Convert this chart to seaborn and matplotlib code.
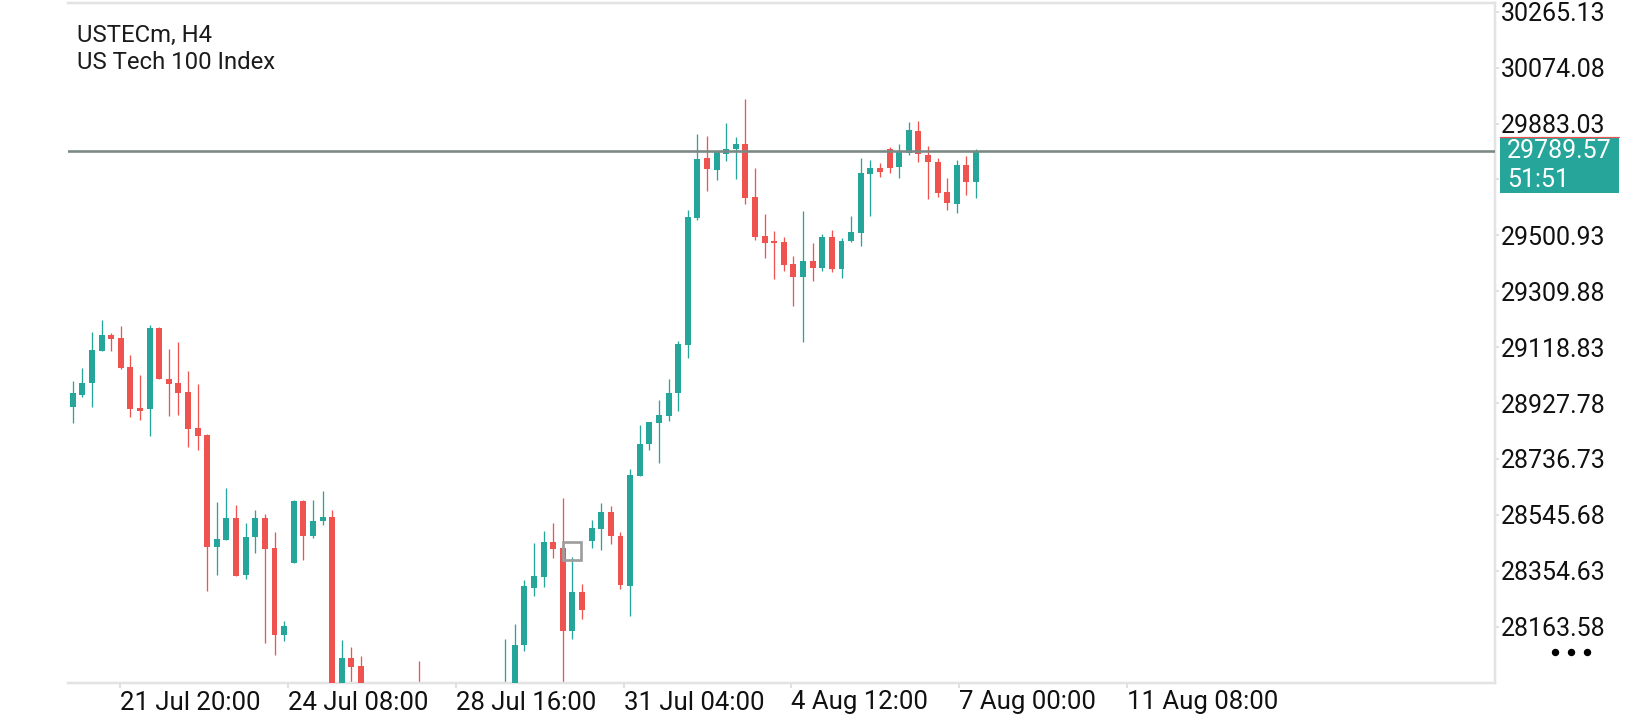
import matplotlib
matplotlib.use("Agg")
import numpy as np
import seaborn as sns
import matplotlib.pyplot as plt
from matplotlib.patches import Rectangle

# --- chart data (H4 candles) ---
SYMBOL = "USTECm, H4"
DESCRIPTION = "US Tech 100 Index"

OPEN = [28913, 28955, 28997, 29107, 29160, 29150, 29051, 28911, 28906, 29184,
        29010, 28996, 28966, 28843, 28819, 28437, 28461, 28535, 28340, 28471,
        28535, 28432, 28135, 28382, 28593, 28474, 28525, 28538, 27935, 28055,
        28029, 27945, 27880, 27910, 27875, 27900, 27955, 27900, 27850, 27890,
        27820, 27870, 27900, 27930, 27890, 27940, 27960, 28101, 28296, 28334,
        28453, 28431, 28149, 28281, 28457, 28498, 28555, 28473, 28304, 28678,
        28789, 28861, 28883, 28963, 29126, 29561, 29765, 29724, 29779, 29796,
        29813, 29632, 29500, 29480, 29478, 29404, 29359, 29413, 29388, 29496,
        29386, 29480, 29510, 29712, 29731, 29796, 29735, 29781, 29857, 29774,
        29751, 29648, 29609, 29741, 29684]
HIGH = [29003, 29046, 29169, 29211, 29168, 29191, 29092, 29024, 29194, 29189,
        29112, 29136, 29037, 28993, 28822, 28589, 28636, 28579, 28518, 28562,
        28548, 28488, 28183, 28595, 28596, 28596, 28627, 28562, 28118, 28093,
        28063, 27962, 27940, 27950, 27930, 27974, 28047, 27950, 27910, 27930,
        27900, 27940, 27945, 27960, 27950, 28121, 28173, 28323, 28448, 28490,
        28518, 28602, 28400, 28309, 28528, 28587, 28576, 28488, 28702, 28853,
        28864, 28938, 29010, 29141, 29587, 29847, 29840, 29787, 29885, 29836,
        29967, 29731, 29574, 29516, 29496, 29430, 29584, 29475, 29505, 29519,
        29491, 29567, 29765, 29758, 29748, 29804, 29813, 29888, 29892, 29806,
        29765, 29696, 29758, 29772, 29796]
LOW = [28860, 28949, 28915, 29105, 29107, 29045, 28881, 28870, 28816, 29010,
       28884, 28887, 28778, 28768, 28286, 28340, 28460, 28337, 28325, 28414,
       28108, 28066, 28115, 28380, 28391, 28465, 28512, 27900, 27910, 27950,
       27920, 27850, 27820, 27860, 27800, 27860, 27880, 27820, 27780, 27800,
       27760, 27830, 27850, 27870, 27860, 27900, 27940, 28081, 28269, 28300,
       28399, 27950, 28121, 28191, 28433, 28425, 28446, 28292, 28200, 28677,
       28767, 28724, 28866, 28900, 29083, 29553, 29653, 29690, 29756, 29694,
       29608, 29485, 29424, 29352, 29379, 29260, 29137, 29346, 29379, 29375,
       29356, 29479, 29465, 29568, 29701, 29713, 29698, 29774, 29753, 29626,
       29631, 29587, 29576, 29640, 29629]
CLOSE = [28961, 28995, 29109, 29160, 29148, 29047, 28908, 28902, 29184, 29011,
         28994, 28963, 28840, 28816, 28437, 28463, 28535, 28338, 28470, 28535,
         28430, 28136, 28166, 28593, 28474, 28525, 28538, 27930, 28055, 28027,
         27945, 27880, 27910, 27875, 27900, 27950, 27900, 27850, 27890, 27820,
         27870, 27900, 27930, 27890, 27940, 27960, 28101, 28302, 28337, 28453,
         28430, 28149, 28281, 28220, 28500, 28555, 28474, 28306, 28682, 28788,
         28863, 28887, 28963, 29129, 29565, 29763, 29729, 29787, 29796, 29813,
         29629, 29496, 29475, 29476, 29400, 29359, 29413, 29390, 29496, 29386,
         29481, 29511, 29714, 29731, 29718, 29732, 29790, 29861, 29778, 29750,
         29647, 29610, 29741, 29684, 29789.57]

LAST_PRICE = 29789.57
COUNTDOWN = "51:51"

TIME_LABELS = ["21 Jul 20:00", "24 Jul 08:00", "28 Jul 16:00", "31 Jul 04:00",
               "4 Aug 12:00", "7 Aug 00:00", "11 Aug 08:00"]
PRICE_TICKS = [28163.58, 28354.63, 28545.68, 28736.73, 28927.78, 29118.83,
               29309.88, 29500.93, 29691.98, 29883.03, 30074.08, 30265.13]

# grey square marker on the chart
MARKER_BAR = 52
MARKER_PRICE = 28423

# --- layout / style ---
W, H, DPI = 1640, 720, 100
AX_LEFT, AX_RIGHT, AX_TOP, AX_BOTTOM = 68, 1495, 3, 683   # pixels
Y_MIN, Y_MAX = 27970.8, 30294.9
X_MIN, X_MAX = -0.49, 148.0
TICK_FIRST, TICK_STEP = 4.97, 17.45     # time label grid, in bars
UP, DOWN = "#26a69a", "#ef5350"
FRAME = "#e3e3e3"
XTICK_SIZE, YTICK_SIZE, HEADER_SIZE = 18.5, 18, 17.2
PT = 72 / DPI   # one pixel in points

sns.set_theme(style="white")
plt.rcParams["font.family"] = ["Roboto", "DejaVu Sans"]

fig = plt.figure(figsize=(W / DPI, H / DPI), dpi=DPI)
fig.patch.set_facecolor("white")
ax = fig.add_axes([AX_LEFT / W, 1 - AX_BOTTOM / H,
                   (AX_RIGHT - AX_LEFT) / W, (AX_BOTTOM - AX_TOP) / H])

x = np.arange(len(OPEN))
o = np.array(OPEN, dtype=float)
c = np.array(CLOSE, dtype=float)
hi = np.array(HIGH, dtype=float)
lo = np.array(LOW, dtype=float)
colors = np.where(c >= o, UP, DOWN)

px = (Y_MAX - Y_MIN) / (AX_BOTTOM - AX_TOP)   # price units per pixel
body_low = np.minimum(o, c)
body_h = np.maximum(np.abs(c - o), 1.2 * px)

ax.vlines(x, lo, hi, colors=colors, linewidth=1.3 * PT, zorder=2)
ax.bar(x, body_h, bottom=body_low, width=0.62, color=colors,
       linewidth=0, zorder=3)

# current price line
ax.axhline(LAST_PRICE, color="#7b8985", linewidth=2.6 * PT, zorder=4)

# grey square marker
ax.plot([MARKER_BAR], [MARKER_PRICE], marker="s", markersize=18 * PT,
        markerfacecolor="none", markeredgecolor="#9e9e9e",
        markeredgewidth=2.7 * PT, linestyle="none", zorder=5)

ax.set_xlim(X_MIN, X_MAX)
ax.set_ylim(Y_MIN, Y_MAX)

# axes frame
sns.despine(ax=ax, left=True, top=False, right=False, bottom=False)
for side in ["top", "right", "bottom"]:
    ax.spines[side].set_color(FRAME)
    ax.spines[side].set_linewidth(2.5 * PT)

# x axis: labels start at the tick mark
tick_pos = TICK_FIRST + TICK_STEP * np.arange(len(TIME_LABELS))
ax.set_xticks(tick_pos, TIME_LABELS)
for lab in ax.get_xticklabels():
    lab.set_horizontalalignment("left")
ax.tick_params(axis="x", bottom=True, length=5 * PT, width=1.5 * PT,
               color="#d6d6d6", pad=2.5 * PT, labelsize=XTICK_SIZE, labelcolor="#111111")

# y axis on the right
badge_top = LAST_PRICE + 14.3 * px
badge_bottom = LAST_PRICE - 42.3 * px
ax.yaxis.tick_right()
ax.set_yticks(PRICE_TICKS,
              ["" if badge_bottom <= v <= badge_top else f"{v:.2f}" for v in PRICE_TICKS])
ax.tick_params(axis="y", right=True, left=False, length=4 * PT, width=1.5 * PT,
               color="#d6d6d6", pad=2 * PT, labelsize=YTICK_SIZE, labelcolor="#111111")
ax.grid(False)

# last price badge
span = AX_RIGHT - AX_LEFT
ytrans = ax.get_yaxis_transform()
ax.add_patch(Rectangle(((1500 - AX_LEFT) / span, badge_bottom), 119 / span,
                       badge_top - badge_bottom, transform=ytrans,
                       facecolor=UP, edgecolor="none", clip_on=False, zorder=10))
ax.plot([(1500 - AX_LEFT) / span, (1619 - AX_LEFT) / span], [badge_top, badge_top],
        transform=ytrans, color=DOWN, linewidth=1.2 * PT, clip_on=False, zorder=11)
ax.text((1507 - AX_LEFT) / span, LAST_PRICE, f"{LAST_PRICE:.2f}", transform=ytrans,
        color="white", fontsize=YTICK_SIZE, va="center", ha="left", zorder=12,
        clip_on=False)
ax.text((1507 - AX_LEFT) / span, LAST_PRICE - 29 * px, COUNTDOWN, transform=ytrans,
        color="white", fontsize=YTICK_SIZE, va="center", ha="left", zorder=12,
        clip_on=False)

# "more" dots under the price scale
dots_x = [(v - AX_LEFT) / span for v in (1555, 1571, 1587)]
ax.plot(dots_x, [(AX_BOTTOM - 652) / (AX_BOTTOM - AX_TOP)] * 3, transform=ax.transAxes,
        marker="o", markersize=6 * PT, color="black", linestyle="none", clip_on=False)

# symbol header
fig.text(77 / W, 1 - 42.3 / H, SYMBOL, fontsize=HEADER_SIZE, color="#1b1b1b",
         va="baseline", ha="left")
fig.text(77 / W, 1 - 69 / H, DESCRIPTION, fontsize=HEADER_SIZE, color="#1b1b1b",
         va="baseline", ha="left")

fig.savefig("out.png", dpi=DPI, facecolor="white")
